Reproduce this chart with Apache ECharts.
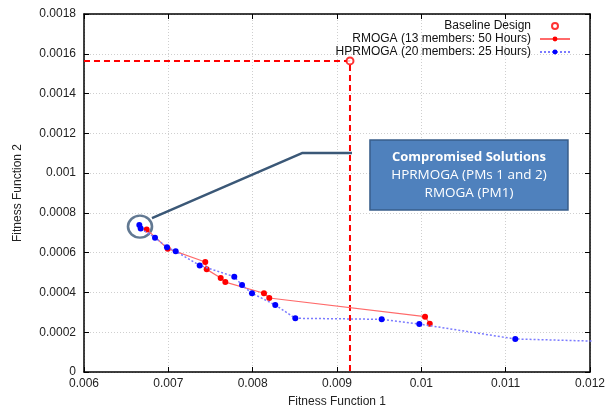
<!DOCTYPE html>
<html><head><meta charset="utf-8">
<script src="https://cdn.jsdelivr.net/npm/echarts@6/dist/echarts.min.js"></script>
<style>html,body{margin:0;padding:0;background:#fff}#c{width:608px;height:414px}</style>
</head><body><div id="c"></div>
<script>
const xTicks = [0.006, 0.007, 0.008, 0.009, 0.01, 0.011, 0.012];
const yTicks = [0, 0.0002, 0.0004, 0.0006, 0.0008, 0.001, 0.0012, 0.0014, 0.0016, 0.0018];
const baseline = [[0.009154, 0.001564]];
const rmoga = [[0.006743,0.000717],[0.006993,0.000620],[0.007438,0.000553],[0.007455,0.000516],[0.007621,0.000473],[0.007676,0.000452],[0.008134,0.000396],[0.008197,0.000372],[0.010044,0.000278],[0.010100,0.000243]];
const hprmoga = [[0.006656,0.000739],[0.006672,0.000722],[0.006842,0.000675],[0.006984,0.000627],[0.007087,0.000607],[0.007372,0.000536],[0.007782,0.000479],[0.007874,0.000437],[0.007992,0.000396],[0.008268,0.000337],[0.008506,0.000270],[0.009530,0.000265],[0.009976,0.000241],[0.011114,0.000166],[0.012500,0.000150]];
const baselineGuide = [[0.006,0.001564],[0.009154,0.001564],[0.009154,0]];
const connector = [[0.006806,0.000774],[0.008585,0.001101],[0.009178,0.001101]];
const highlight = [[0.006664,0.000731]];
const boxCorners = [[0.009391,0.001166],[0.011739,0.000814]];
const boxLines = ['Compromised Solutions','HPRMOGA (PMs 1 and 2)','RMOGA (PM1)'];

const chart = echarts.init(document.getElementById('c'), null, {renderer:'canvas'});
const font = 'Liberation Sans, Arial, sans-serif';
const fx = v => parseFloat(v.toFixed(3)).toString();
const fy = v => parseFloat(v.toFixed(4)).toString();
const axCommon = {
  axisLine:{show:true,onZero:false,lineStyle:{color:'#000',width:1.5}},
  axisTick:{show:true,inside:true,length:5,lineStyle:{color:'#000'}},
};
chart.setOption({
  animation:false,
  grid:{left:84,right:18,top:14,bottom:42,containLabel:false},
  xAxis:[
    Object.assign({type:'value',min:0.006,max:0.012,interval:0.001,position:'bottom',
      name:'Fitness Function 1',nameLocation:'middle',nameGap:24,
      nameTextStyle:{fontFamily:font,fontSize:12,color:'#222'},
      axisLabel:{formatter:fx,fontFamily:font,fontSize:12,color:'#222',margin:6},
      splitLine:{show:true,lineStyle:{color:'#cfcfcf',type:[1,2],width:1}}},axCommon),
    Object.assign({type:'value',min:0.006,max:0.012,interval:0.001,position:'top',
      axisLabel:{show:false},splitLine:{show:false}},axCommon)
  ],
  yAxis:[
    Object.assign({type:'value',min:0,max:0.0018,interval:0.0002,position:'left',
      name:'Fitness Function 2',nameLocation:'middle',nameGap:60,nameRotate:90,
      nameTextStyle:{fontFamily:font,fontSize:12,color:'#222'},
      axisLabel:{formatter:fy,fontFamily:font,fontSize:12,color:'#222',margin:8},
      splitLine:{show:true,lineStyle:{color:'#cfcfcf',type:[1,2],width:1}}},axCommon),
    Object.assign({type:'value',min:0,max:0.0018,interval:0.0002,position:'right',
      axisLabel:{show:false},splitLine:{show:false}},axCommon)
  ],
  legend:{
    right:32,top:15,orient:'vertical',align:'right',itemGap:1,itemWidth:30,itemHeight:6,
    textStyle:{fontFamily:font,fontSize:12,color:'#111',lineHeight:12,padding:[0,4,0,0]},
    data:[
      {name:'Baseline Design',icon:'emptyCircle'},
      'RMOGA (13 members: 50 Hours)',
      'HPRMOGA (20 members: 25 Hours)'
    ]
  },
  series:[
    {name:'guide',type:'line',data:baselineGuide,symbol:'none',silent:true,
      lineStyle:{color:'#ff0000',width:2,type:[6,4]},z:2},
    {name:'connector',type:'line',data:connector,symbol:'none',silent:true,
      lineStyle:{color:'#3b5877',width:2.5},z:3},
    {name:'highlight',type:'scatter',data:highlight,symbol:'circle',symbolSize:[24,22],silent:true,
      itemStyle:{color:'rgba(0,0,0,0)',borderColor:'#3b5877',borderWidth:2.5},z:3},
    {name:'RMOGA (13 members: 50 Hours)',type:'line',data:rmoga,symbol:'circle',symbolSize:6,
      itemStyle:{color:'#ff0000'},lineStyle:{color:'#ff6a6a',width:1.2},z:5},
    {name:'HPRMOGA (20 members: 25 Hours)',type:'line',data:hprmoga,symbol:'circle',symbolSize:6,clip:true,
      itemStyle:{color:'#0000ff'},lineStyle:{color:'#7b7bff',width:1.5,type:[2,2]},z:6},
    {name:'Baseline Design',type:'scatter',data:baseline,symbol:'emptyCircle',symbolSize:7,
      itemStyle:{color:'#ff0000',borderColor:'#ff0000',borderWidth:1.8},z:7}
  ]
});

const p1 = chart.convertToPixel({xAxisIndex:0,yAxisIndex:0}, boxCorners[0]);
const p2 = chart.convertToPixel({xAxisIndex:0,yAxisIndex:0}, boxCorners[1]);
const bw = p2[0]-p1[0], bh = p2[1]-p1[1];
const cx = p1[0]+bw/2;
chart.setOption({graphic:[
  {type:'rect',shape:{x:p1[0],y:p1[1],width:bw,height:bh},
    style:{fill:'#4f81bd',stroke:'#385d8a',lineWidth:1.5},z:10},
  {type:'text',x:cx,y:p1[1]+17,style:{text:boxLines[0],fill:'#fff',font:'bold 13px "Open Sans", sans-serif',textAlign:'center',textVerticalAlign:'middle'},z:11},
  {type:'text',x:cx,y:p1[1]+35,style:{text:boxLines[1],fill:'#fff',font:'13.5px "Open Sans", sans-serif',textAlign:'center',textVerticalAlign:'middle'},z:11},
  {type:'text',x:cx,y:p1[1]+53,style:{text:boxLines[2],fill:'#fff',font:'13.5px "Open Sans", sans-serif',textAlign:'center',textVerticalAlign:'middle'},z:11}
]});
</script></body></html>
